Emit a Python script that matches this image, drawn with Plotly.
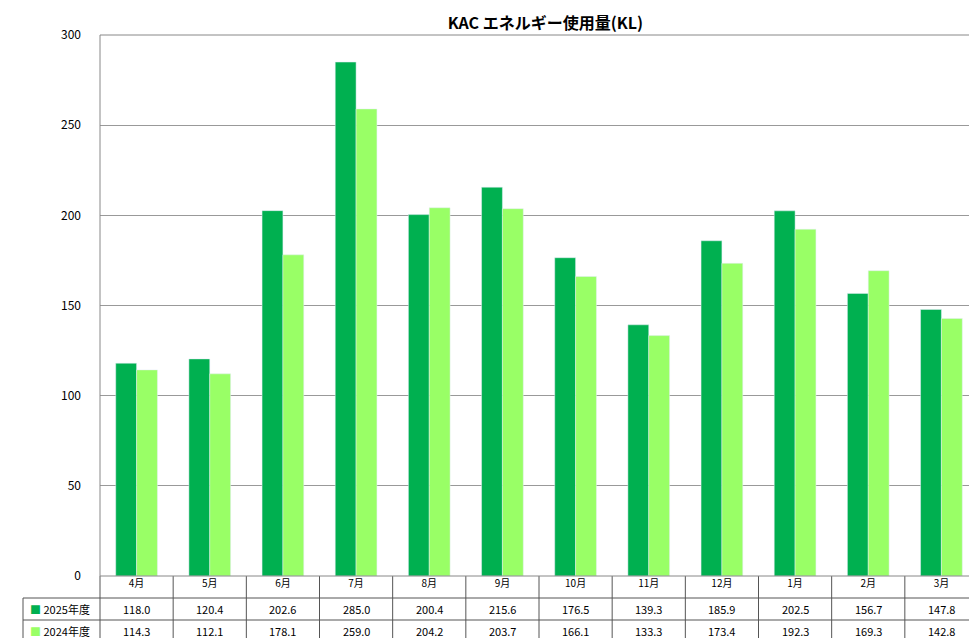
import plotly.graph_objects as go

months = ["4月", "5月", "6月", "7月", "8月", "9月", "10月", "11月", "12月", "1月", "2月", "3月"]
fy2025 = [118.0, 120.4, 202.6, 285.0, 200.4, 215.6, 176.5, 139.3, 185.9, 202.5, 156.7, 147.8]
fy2024 = [114.3, 112.1, 178.1, 259.0, 204.2, 203.7, 166.1, 133.3, 173.4, 192.3, 169.3, 142.8]
series = [("2025年度", fy2025, "#00B050"), ("2024年度", fy2024, "#99FF66")]

W, H = 977, 638
L, R, T, B = 92, 7, 27, 70
pw, ph = W - L - R, H - T - B

def py(p):  # pixel y below plot -> paper y
    return (H - B - p) / ph

def px(p):
    return (p - L) / pw

fig = go.Figure()
for name, vals, col in series:
    fig.add_trace(go.Bar(x=months, y=vals, name=name, marker_color=col, showlegend=False))

shapes = []
line = dict(color="#555", width=1)
rows = [590, 612, 634]
for r in rows:
    shapes.append(dict(type="line", xref="paper", yref="paper", x0=px(15) if r != 590 else px(15), x1=1, y0=py(r), y1=py(r), line=line))
shapes.append(dict(type="line", xref="paper", yref="paper", x0=px(15), x1=px(15), y0=py(590), y1=py(634), line=line))
for i in range(13):
    shapes.append(dict(type="line", xref="paper", yref="paper", x0=i / 12, x1=i / 12, y0=0, y1=py(634), line=line))
# plot border
shapes.append(dict(type="rect", xref="paper", yref="paper", x0=0, x1=1, y0=0, y1=1, line=dict(color="#888", width=1)))

ann = []
for k, (name, vals, col) in enumerate(series):
    yc = py((rows[k] + rows[k + 1]) / 2)
    ann.append(dict(xref="paper", yref="paper", x=px(20), y=yc, xanchor="left", yanchor="middle", showarrow=False,
                    text=f"<span style='color:{col}'>■</span> {name}", font=dict(size=11, color="#000")))
    for m, v in zip(months, vals):
        ann.append(dict(xref="x", yref="paper", x=m, y=yc, yanchor="middle", showarrow=False,
                        text=f"{v:.1f}", font=dict(size=11, color="#000")))

fig.update_layout(
    width=W, height=H, margin=dict(l=L, r=R, t=T, b=B),
    paper_bgcolor="white", plot_bgcolor="white",
    font=dict(family="Noto Sans CJK JP, DejaVu Sans", color="#000"),
    title=dict(text="<b>KAC エネルギー使用量(KL)</b>", x=0.55, xanchor="center", y=0.985, yanchor="top",
               font=dict(size=16)),
    barmode="group", bargap=0.43, bargroupgap=0,
    shapes=shapes, annotations=ann,
)
fig.update_xaxes(showgrid=False, ticks="", tickfont=dict(size=10), showline=False)
fig.update_yaxes(range=[0, 300], dtick=50, gridcolor="#999", zeroline=False, showline=False,
                 tickfont=dict(size=12), ticklabelstandoff=18)
fig.write_html("out.html")
